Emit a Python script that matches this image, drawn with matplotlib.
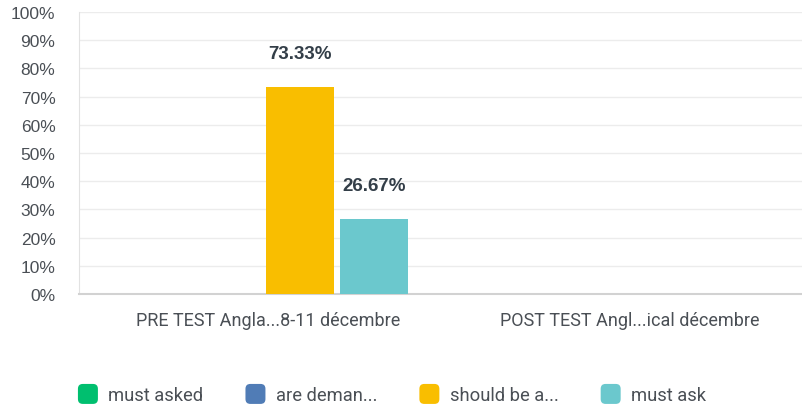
import matplotlib.pyplot as plt
from matplotlib.patches import FancyBboxPatch
from matplotlib.legend_handler import HandlerPatch
from matplotlib import font_manager
import numpy as np

# data
categories = ["PRE TEST Angla...8-11 décembre", "POST TEST Angl...ical décembre"]
series_names = ["must asked", "are deman...", "should be a...", "must ask"]
series_colors = ["#00bf6f", "#507cb6", "#f9be00", "#6bc8cd"]
must_asked = [0.0, 0.0]
are_demanded = [0.0, 0.0]
should_be_asked = [73.33, 0.0]
must_ask = [26.67, 0.0]
y_ticks = list(range(0, 101, 10))

values = [must_asked, are_demanded, should_be_asked, must_ask]

names = sorted({f.name for f in font_manager.fontManager.ttflist})
narrow = "Liberation Sans Narrow" if "Liberation Sans Narrow" in names else "Roboto"

fig = plt.figure(figsize=(8.02, 4.10), dpi=100)
ax = fig.add_axes([79 / 802, 1 - 295 / 410, 1 - 79 / 802, (295 - 13) / 410])

x = np.arange(len(categories))
step = 74 / 361.5
width = 68 / 361.5
for i, (name, vals, col) in enumerate(zip(series_names, values, series_colors)):
    pos = x + (i - 1.5) * step
    ax.bar(pos, vals, width=width, color=col, zorder=3)
    for p, v in zip(pos, vals):
        if v > 0:
            ax.annotate(f"{v:.2f}%", (p, v), xytext=(0, 18), textcoords="offset points",
                        ha="center", va="bottom", fontsize=13.5, fontweight="bold",
                        color="#333e48", family="Liberation Sans")

ax.set_xlim(-0.509, 1.491)
ax.set_ylim(0, 100)
ax.set_yticks(y_ticks)
ax.set_yticklabels([f"{t}%" for t in y_ticks], fontsize=12.5, color="#4a4f55",
                   family="Liberation Sans")
ax.set_xticks(x + 0.015)
ax.set_xticklabels(categories, fontsize=13, color="#4a4f55", family=narrow)
ax.tick_params(axis="both", length=0)
ax.tick_params(axis="y", pad=17)
ax.tick_params(axis="x", pad=12)
ax.grid(axis="y", color="#ececec", linewidth=1, zorder=0)
for s in ["top", "right"]:
    ax.spines[s].set_visible(False)
ax.spines["left"].set_color("#e2e2e2")
ax.spines["bottom"].set_color("#d2d2d2")
ax.spines["bottom"].set_linewidth(1.5)


class RoundBox(HandlerPatch):
    def create_artists(self, legend, orig_handle, xdescent, ydescent, width, height, fontsize, trans):
        size = min(width, height)
        p = FancyBboxPatch((-xdescent + (width - size) / 2, -ydescent + (height - size) / 2),
                           size, size, boxstyle="round,pad=0,rounding_size=3.5",
                           facecolor=orig_handle.get_facecolor(), edgecolor="none",
                           transform=trans)
        return [p]


handles = [FancyBboxPatch((0, 0), 1, 1, facecolor=c) for c in series_colors]
leg = fig.legend(handles, series_names, loc="center left",
                 bbox_to_anchor=(76 / 802, 1 - 395 / 410), ncol=4, frameon=False,
                 borderpad=0, borderaxespad=0,
                 handler_map={FancyBboxPatch: RoundBox()},
                 handlelength=1.3, handleheight=1.3, handletextpad=0.45,
                 columnspacing=2.2, prop={"family": narrow, "size": 13.2})
for t in leg.get_texts():
    t.set_color("#4a4f55")

fig.savefig("out.png", dpi=100)
